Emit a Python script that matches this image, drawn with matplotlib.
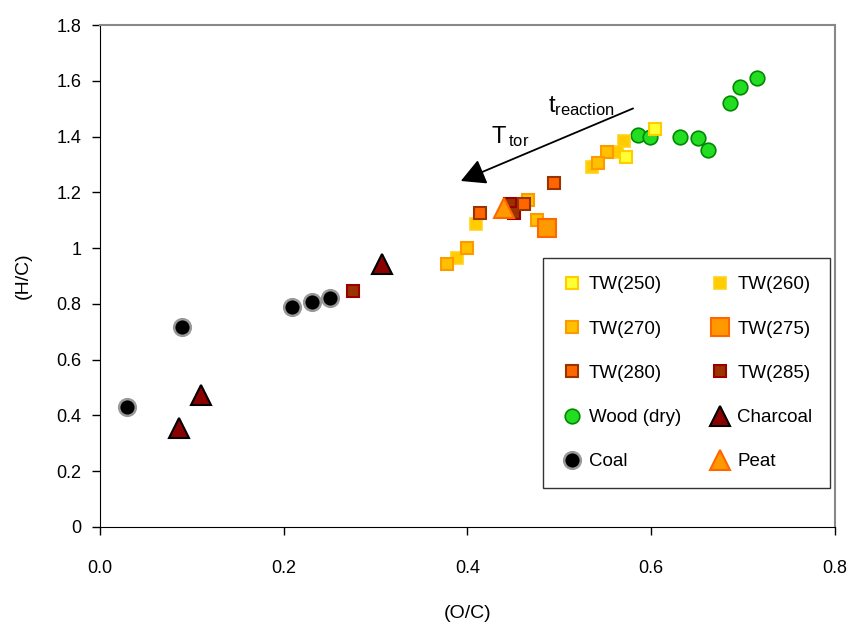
import matplotlib
matplotlib.use('Agg')
import matplotlib.pyplot as plt

plt.rcParams['font.family'] = ['Liberation Sans', 'DejaVu Sans']

# (O/C, H/C) per series
tw250_x = [0.604, 0.572]
tw250_y = [1.427, 1.327]
tw260_x = [0.570, 0.563, 0.535, 0.409, 0.389]
tw260_y = [1.384, 1.345, 1.291, 1.087, 0.965]
tw270_x = [0.552, 0.542, 0.466, 0.476, 0.399, 0.378]
tw270_y = [1.345, 1.305, 1.173, 1.101, 1.000, 0.943]
tw275_x = [0.487]
tw275_y = [1.072]
tw280_x = [0.414, 0.461, 0.494]
tw280_y = [1.126, 1.158, 1.234]
tw285_x = [0.276, 0.446, 0.451]
tw285_y = [0.846, 1.158, 1.126]
wood_x = [0.586, 0.599, 0.631, 0.651, 0.662, 0.686, 0.697, 0.715]
wood_y = [1.406, 1.399, 1.399, 1.395, 1.352, 1.520, 1.578, 1.610]
charcoal_x = [0.086, 0.110, 0.307]
charcoal_y = [0.355, 0.473, 0.943]
coal_x = [0.030, 0.089, 0.209, 0.231, 0.250]
coal_y = [0.430, 0.717, 0.789, 0.807, 0.821]
peat_x = [0.440]
peat_y = [1.144]

fig = plt.figure(figsize=(8.53, 6.28), dpi=100)
ax = fig.add_axes([0.117, 0.161, 0.862, 0.799])

h = {}
h['Coal'], = ax.plot(coal_x, coal_y, 'o', ms=12, mfc='black', mec='#999999', mew=1.8, ls='none')
h['Charcoal'], = ax.plot(charcoal_x, charcoal_y, '^', ms=15, mfc='#8b0000', mec='black', mew=1.5, ls='none')
h['Wood (dry)'], = ax.plot(wood_x, wood_y, 'o', ms=10.5, mfc='#22dd22', mec='#008800', mew=1.2, ls='none')
h['TW(260)'], = ax.plot(tw260_x, tw260_y, 's', ms=8.5, mfc='#ffcc00', mec='#ffd21a', mew=1.2, ls='none')
h['TW(250)'], = ax.plot(tw250_x, tw250_y, 's', ms=8.5, mfc='#ffff33', mec='#ffcc00', mew=1.5, ls='none')
h['TW(270)'], = ax.plot(tw270_x, tw270_y, 's', ms=8.5, mfc='#ffc000', mec='#ff9900', mew=1.5, ls='none')
h['TW(275)'], = ax.plot(tw275_x, tw275_y, 's', ms=12.5, mfc='#ff9900', mec='#ff6600', mew=1.5, ls='none')
h['TW(285)'], = ax.plot(tw285_x, tw285_y, 's', ms=8.5, mfc='#993300', mec='#990000', mew=1.5, ls='none')
h['TW(280)'], = ax.plot(tw280_x, tw280_y, 's', ms=8.5, mfc='#ff6600', mec='#993300', mew=1.5, ls='none')
h['Peat'], = ax.plot(peat_x, peat_y, '^', ms=15, mfc='#ff9900', mec='#ff6600', mew=1.5, ls='none')

# reaction-time arrow
ax.annotate('', xy=(0.390, 1.237), xytext=(0.583, 1.505),
            arrowprops=dict(arrowstyle='-|>,head_length=1.5,head_width=0.8', color='black', lw=1.3))
ax.text(0.488, 1.51, r'$\mathregular{t_{reaction}}$', fontsize=17, ha='left', va='center')
ax.text(0.426, 1.40, r'$\mathregular{T_{\,tor}}$', fontsize=17, ha='left', va='center')

ax.set_xlim(0, 0.8)
ax.set_ylim(0, 1.8)
ax.set_xticks([0, 0.2, 0.4, 0.6, 0.8])
ax.set_xticklabels(['0.0', '0.2', '0.4', '0.6', '0.8'])
ax.set_yticks([0, 0.2, 0.4, 0.6, 0.8, 1.0, 1.2, 1.4, 1.6, 1.8])
ax.set_yticklabels(['0', '0.2', '0.4', '0.6', '0.8', '1', '1.2', '1.4', '1.6', '1.8'])
ax.tick_params(labelsize=13, direction='out', length=6, width=1)
ax.tick_params(axis='x', pad=18)
ax.tick_params(axis='y', pad=7)
for side in ['top', 'right']:
    ax.spines[side].set_color('#888888')
    ax.spines[side].set_linewidth(1.5)
ax.set_xlabel('(O/C)', fontsize=14, labelpad=20)
ax.set_ylabel('(H/C)', fontsize=14, labelpad=18)

order = ['TW(250)', 'TW(270)', 'TW(280)', 'Wood (dry)', 'Coal',
         'TW(260)', 'TW(275)', 'TW(285)', 'Charcoal', 'Peat']
leg = ax.legend([h[k] for k in order], order, ncol=2, loc='lower right',
                bbox_to_anchor=(0.9935, 0.077), fontsize=13.5, frameon=True, fancybox=False,
                edgecolor='black', labelspacing=1.45, handletextpad=0.3,
                columnspacing=1.5, borderpad=0.95, handlelength=1.2, borderaxespad=0)
leg.get_frame().set_linewidth(1.0)

fig.savefig('out.png', dpi=100)
